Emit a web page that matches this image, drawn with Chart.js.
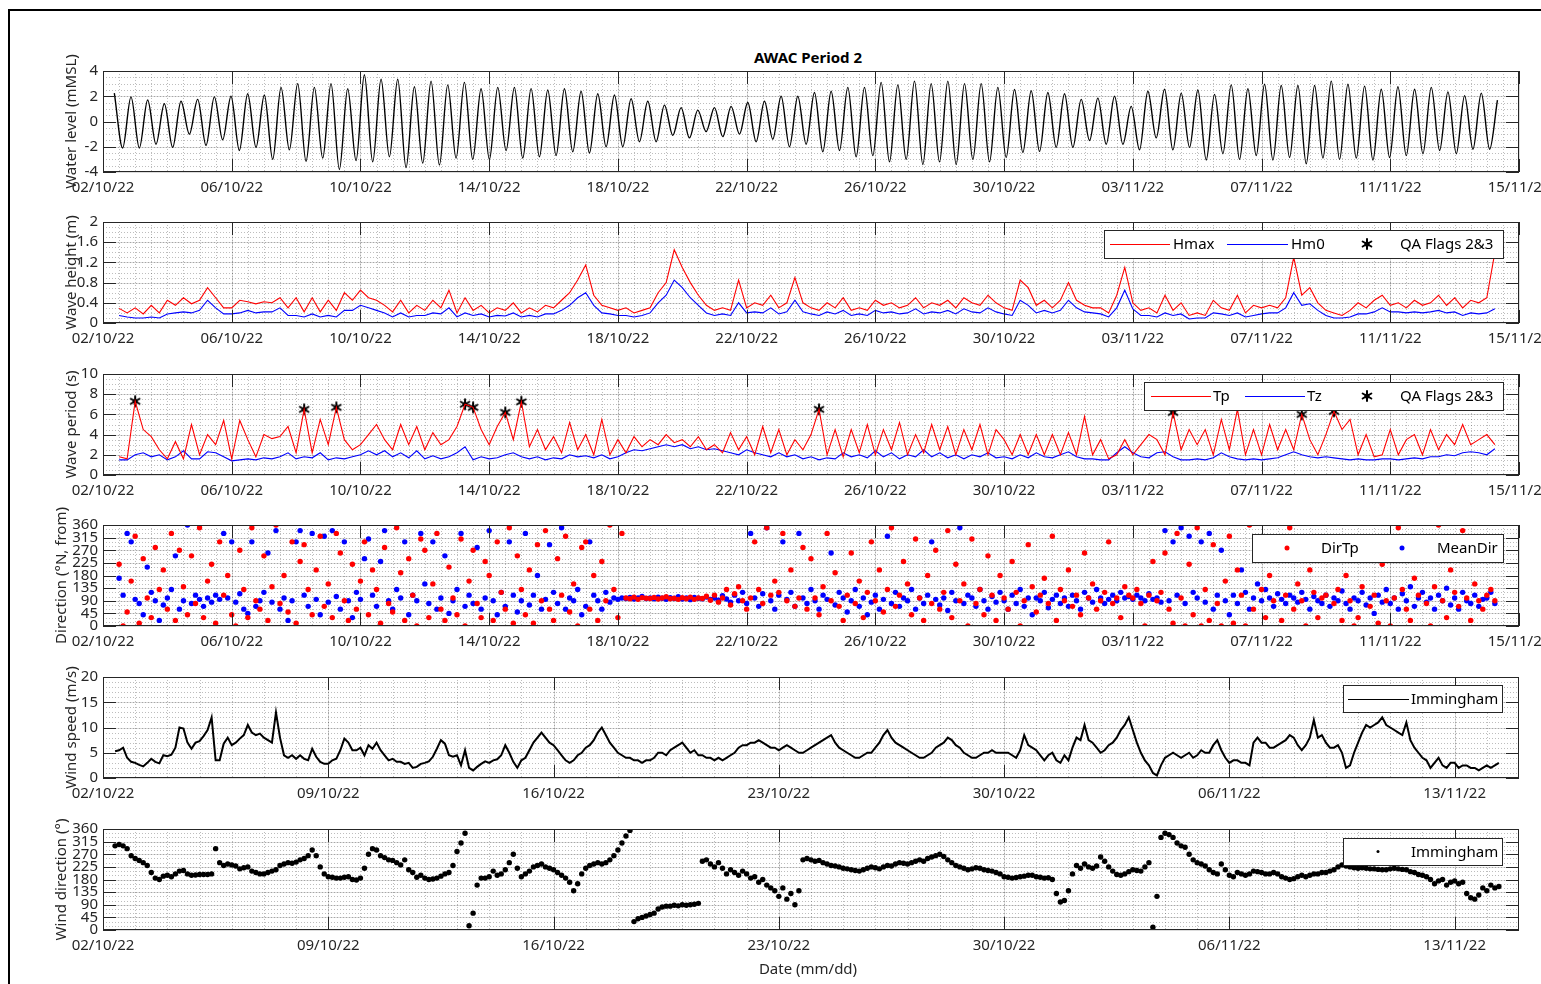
<!DOCTYPE html>
<html>
<head>
<meta charset="utf-8">
<title>AWAC Period 2</title>
<script src="https://cdn.jsdelivr.net/npm/chart.js@4.4.1/dist/chart.umd.min.js"></script>
<style>
  html, body { margin: 0; padding: 0; background: #fff; }
  body { width: 1541px; height: 984px; overflow: hidden; position: relative; font-family: 'Noto Sans', sans-serif; }
  .frame { position: absolute; left: 8px; top: 9px; width: 1600px; height: 1000px; border-left: 2px solid #000; border-top: 2px solid #000; }
  .panel { position: absolute; left: 0; }
  .label { position: absolute; left: 100px; width: 1416px; text-align: center; color: #262626; font-size: 15px; line-height: 18px; }
</style>
</head>
<body>
<div class="frame"></div>
<div class="label" style="top:48px;font-weight:bold;color:#000">AWAC Period 2</div>
<canvas class="panel" id="p1" width="1541" height="185"></canvas>
<canvas class="panel" id="p2" width="1541" height="185"></canvas>
<canvas class="panel" id="p3" width="1541" height="185"></canvas>
<canvas class="panel" id="p4" width="1541" height="185"></canvas>
<canvas class="panel" id="p5" width="1541" height="185"></canvas>
<canvas class="panel" id="p6" width="1541" height="185"></canvas>
<div class="label" style="top:959px">Date (mm/dd)</div>
<script>
// ====================================
// AWAC PERIOD 2 - six stacked panels
// time axis = days since 02/10/22 00:00
// ====================================

// TICKS
const X_TICKS_4D = [0, 4, 8, 12, 16, 20, 24, 28, 32, 36, 40, 44];
const X_LABELS_4D = ["02/10/22", "06/10/22", "10/10/22", "14/10/22", "18/10/22", "22/10/22",
  "26/10/22", "30/10/22", "03/11/22", "07/11/22", "11/11/22", "15/11/22"];
const X_TICKS_7D = [0, 7, 14, 21, 28, 35, 42];
const X_LABELS_7D = ["02/10/22", "09/10/22", "16/10/22", "23/10/22", "30/10/22", "06/11/22", "13/11/22"];

const Y_TICKS_WL = [-4, -2, 0, 2, 4];
const Y_TICKS_HS = [0, 0.4, 0.8, 1.2, 1.6, 2];
const Y_TICKS_TP = [0, 2, 4, 6, 8, 10];
const Y_TICKS_DIR = [0, 45, 90, 135, 180, 225, 270, 315, 360];
const Y_TICKS_WS = [0, 5, 10, 15, 20];

// WATER LEVEL - successive high / low waters
const WL_T0 = 0.352, WL_STEP = 0.259;
const WL_EXTREMES = [
  2.25, -2.1, 1.95, -2.1, 1.7, -1.8, 1.4, -2.05, 1.6, -1.0,
  1.75, -1.9, 1.95, -1.45, 2.0, -2.3, 2.2, -2.05, 2.1, -3.0,
  2.7, -2.25, 3.0, -3.15, 2.7, -2.9, 3.0, -3.8, 2.6, -3.1,
  3.7, -3.2, 3.35, -2.8, 3.35, -3.65, 2.75, -3.3, 3.2, -3.45,
  2.9, -2.9, 3.1, -3.0, 2.6, -3.0, 2.7, -2.3, 2.7,
  -2.9, 2.6, -2.8, 2.5, -2.7, 2.6, -2.4, 2.4, -2.5, 2.2,
  -2.0, 2.1, -2.0, 1.8, -1.6, 1.6, -1.6, 1.3, -1.1, 1.1,
  -1.3, 0.9, -0.8, 1.1, -1.2, 1.2, -1.0, 1.5, -1.6, 1.6,
  -1.4, 2.0, -2.0, 2.0, -1.8, 2.3, -2.4, 2.4, -2.3, 2.7,
  -2.8, 2.7, -2.7, 3.1, -3.2, 2.9, -3.0, 3.2, -3.4, 3.0,
  -3.2, 3.2, -3.4, 3.0, -3.0, 3.0, -3.2, 2.7,
  -2.85, 2.53, -2.45, 2.43, -2.37, 2.3, -2.05, 2.2, -2.05, 1.75,
  -1.5, 1.85, -1.8, 2.0, -1.8, 1.2, -2.25, 2.4, -1.3, 2.55,
  -2.25, 2.25, -2.05, 2.5, -3.05, 2.15, -2.55, 2.9, -3.0, 2.6,
  -2.7, 2.95, -3.05, 2.85, -2.85, 2.85, -3.35, 2.85, -2.9, 3.2,
  -3.0, 2.95, -2.9, 2.8, -3.05, 2.55, -2.85, 2.75, -2.7, 2.55,
  -2.55, 2.7, -2.3, 2.35, -2.55, 2.05, -2.2, 2.25, -2.2
];
const WL_LAST = [43.33, 1.7];

// WAVES - 6-hourly from 0.5 d
const WAVE_T0 = 0.5, WAVE_STEP = 0.25;
const HMAX = [
  0.29, 0.2,
  0.3, 0.18, 0.35, 0.2,   0.45, 0.35, 0.5, 0.38,   0.45, 0.7, 0.5, 0.3,   0.3, 0.45, 0.42, 0.38,
  0.42, 0.4, 0.5, 0.3,    0.5, 0.22, 0.5, 0.22,    0.45, 0.25, 0.6, 0.45, 0.65, 0.5, 0.45, 0.35,
  0.22, 0.45, 0.2, 0.35,  0.25, 0.45, 0.3, 0.65,   0.2, 0.5, 0.25, 0.35,  0.2, 0.3, 0.25, 0.4,
  0.2, 0.3, 0.22, 0.35,   0.3, 0.45, 0.6, 0.85,    1.15, 0.55, 0.35, 0.3, 0.25, 0.3, 0.2, 0.25,
  0.3, 0.6, 0.8, 1.45,    1.1, 0.8, 0.55, 0.35,    0.25, 0.3, 0.25, 0.85, 0.3, 0.4, 0.35, 0.55,
  0.3, 0.4, 0.9, 0.4,     0.3, 0.25, 0.4, 0.3,     0.5, 0.25, 0.3, 0.25,  0.45, 0.35, 0.4, 0.3,
  0.35, 0.5, 0.3, 0.4,    0.35, 0.45, 0.3, 0.5,    0.4, 0.35, 0.55, 0.4,  0.3, 0.25, 0.85, 0.7,
  0.35, 0.45, 0.3, 0.45,  0.8, 0.45, 0.35, 0.3,    0.3, 0.2, 0.55, 1.1,   0.4, 0.25, 0.3, 0.2,
  0.55, 0.25, 0.4, 0.15,  0.2, 0.15, 0.45, 0.3,    0.25, 0.55, 0.2, 0.35, 0.3, 0.35, 0.3, 0.5,
  1.3, 0.55, 0.7, 0.4,    0.25, 0.2, 0.15, 0.25,   0.4, 0.3, 0.45, 0.55,  0.35, 0.4, 0.3, 0.45,
  0.35, 0.4, 0.55, 0.35,  0.5, 0.3, 0.45, 0.4,
  0.5, 1.4
];
const HM0 = [
  0.15, 0.12,
  0.1, 0.1, 0.12, 0.1,    0.18, 0.2, 0.22, 0.2,    0.25, 0.45, 0.3, 0.18, 0.18, 0.2, 0.25, 0.2,
  0.22, 0.22, 0.3, 0.15,  0.15, 0.12, 0.18, 0.12,  0.15, 0.12, 0.25, 0.25, 0.35, 0.3, 0.25, 0.2,
  0.12, 0.2, 0.12, 0.15,  0.15, 0.2, 0.18, 0.3,    0.12, 0.2, 0.15, 0.18, 0.12, 0.15, 0.14, 0.2,
  0.12, 0.15, 0.12, 0.18, 0.18, 0.25, 0.35, 0.5,   0.6, 0.35, 0.2, 0.18,  0.15, 0.15, 0.12, 0.15,
  0.2, 0.4, 0.55, 0.85,   0.7, 0.5, 0.35, 0.2,     0.15, 0.18, 0.15, 0.4, 0.2, 0.22, 0.2, 0.3,
  0.18, 0.22, 0.45, 0.22, 0.18, 0.15, 0.22, 0.18,  0.25, 0.15, 0.18, 0.15, 0.25, 0.2, 0.22, 0.18,
  0.2, 0.28, 0.18, 0.22,  0.2, 0.25, 0.18, 0.28,   0.22, 0.2, 0.3, 0.22,  0.18, 0.15, 0.45, 0.35,
  0.2, 0.25, 0.2, 0.25,   0.45, 0.3, 0.22, 0.2,    0.18, 0.12, 0.3, 0.65, 0.28, 0.15, 0.15, 0.12,
  0.2, 0.15, 0.18, 0.08,  0.1, 0.1, 0.2, 0.18,     0.15, 0.2, 0.12, 0.15, 0.18, 0.2, 0.2, 0.3,
  0.6, 0.35, 0.38, 0.25,  0.15, 0.1, 0.1, 0.12,    0.18, 0.18, 0.22, 0.3, 0.22, 0.22, 0.2, 0.22,
  0.2, 0.22, 0.25, 0.2,   0.22, 0.15, 0.2, 0.18,
  0.2, 0.28
];
const TP = [
  1.8, 1.6,
  7.3, 4.5, 3.8, 2.5,  1.6, 3.3, 1.6, 5.0,  2.0, 4.0, 3.0, 5.4,  1.6, 5.4, 3.5, 1.8,
  4.0, 3.6, 3.8, 4.8,  2.2, 6.5, 2.2, 5.5,  3.0, 6.7, 3.5, 2.5,  3.0, 4.0, 5.0, 3.5,
  2.5, 5.0, 3.0, 4.8,  2.5, 4.2, 3.0, 3.5,  4.8, 7.0, 6.7, 4.5,  3.0, 4.8, 6.2, 3.5,
  7.25, 2.8, 4.5, 2.5, 3.8, 2.2, 5.2, 2.5,  4.0, 2.0, 5.5, 2.0,  3.5, 2.2, 3.8, 2.8,
  3.5, 3.0, 4.0, 3.2,  3.5, 2.8, 3.8, 2.5,  3.0, 2.2, 4.2, 2.5,  3.8, 2.0, 4.8, 2.2,
  4.5, 2.0, 3.5, 2.5,  4.0, 6.5, 2.0, 4.5,  1.8, 4.5, 2.2, 5.0,  2.0, 4.5, 2.5, 5.2,
  2.0, 4.0, 2.2, 5.0,  2.5, 4.8, 2.0, 4.5,  2.5, 5.0, 2.0, 4.5,  3.5, 2.0, 4.0, 2.0,
  4.0, 2.0, 4.0, 2.0,  4.2, 2.0, 5.8, 2.0,  3.5, 1.6, 2.0, 3.5,  2.0, 3.0, 4.0, 3.5,
  2.0, 6.2, 2.5, 4.5,  3.0, 4.5, 2.0, 5.5,  2.5, 6.5, 2.0, 4.5,  2.0, 5.0, 2.5, 4.5,
  2.5, 6.0, 3.5, 2.0,  4.0, 6.3, 4.5, 5.5,  2.0, 4.0, 1.8, 2.0,  4.5, 2.0, 3.5, 4.0,
  2.0, 4.5, 2.5, 4.0,  3.0, 5.0, 3.0, 3.5,
  4.0, 3.0
];
const TZ = [
  1.5, 1.5,
  2.0, 2.2, 1.8, 2.0,  1.5, 1.8, 2.4, 1.6,  1.6, 2.3, 2.2, 1.8,  1.4, 1.5, 1.6, 1.5,
  1.7, 1.6, 1.8, 2.2,  1.6, 1.8, 1.7, 2.2,  1.5, 1.7, 1.6, 1.8,  2.0, 2.4, 2.0, 2.4,
  1.8, 2.2, 1.7, 2.4,  1.6, 1.9, 1.6, 1.8,  2.2, 2.8, 1.5, 1.8,  1.6, 1.7, 2.0, 2.2,
  1.8, 1.6, 1.8, 1.5,  1.7, 1.6, 2.0, 1.8,  1.9, 1.7, 2.0, 1.6,  1.8, 2.2, 2.5, 2.4,
  2.6, 2.8, 3.0, 2.8,  3.0, 2.6, 2.8, 2.5,  2.6, 2.4, 2.2, 2.0,  2.5, 2.2, 2.0, 1.8,
  2.2, 1.8, 2.0, 1.6,  1.8, 1.5, 1.7, 1.6,  2.2, 1.8, 2.0, 1.7,  2.4, 1.8, 2.2, 1.6,
  2.0, 1.8, 2.5, 1.8,  2.2, 1.7, 2.0, 1.6,  2.0, 1.8, 2.2, 1.7,  1.8, 1.6, 2.0, 1.7,
  2.2, 1.8, 1.7, 2.0,  2.3, 1.8, 1.6, 1.6,  1.5, 1.5, 2.2, 2.8,  2.2, 1.8, 1.7, 2.2,
  2.3, 1.8, 1.5, 1.5,  1.6, 1.5, 1.7, 2.2,  1.8, 1.6, 1.5, 1.6,  1.5, 1.6, 1.7, 2.0,
  2.3, 2.0, 1.8, 1.7,  1.8, 1.7, 1.6, 1.5,  1.6, 1.5, 1.5, 1.6,  1.6, 1.5, 1.6, 1.7,
  1.6, 1.8, 1.8, 2.0,  1.9, 2.2, 2.3, 2.2,
  2.0, 2.6
];
const QA_T = [1.0, 6.25, 7.25, 11.25, 11.5, 12.5, 13.0, 22.25, 33.25, 37.25, 38.25];
const QA_TP = [7.3, 6.5, 6.7, 7.0, 6.7, 6.2, 7.25, 6.5, 6.2, 6.0, 6.3];

// DIRECTIONS - 3-hourly from 0.5 d
const DIR_T0 = 0.5, DIR_STEP = 0.125;
const DIRTP = [
  220, 0, 50, 160,
  320, 10, 240, 100, 30, 280, 130, 200,
  60, 330, 20, 270, 140, 40, 250, 80,
  350, 30, 160, 220, 10, 300, 110, 180,
  40, 0, 270, 130, 30, 350, 90, 60,
  250, 20, 140, 360, 80, 180, 50, 300,
  10, 230, 290, 130, 40, 200, 320, 70,
  150, 30, 330, 260, 90, 20, 220, 60,
  160, 300, 40, 200, 130, 10, 280, 80,
  50, 350, 190, 20, 240, 110, 0, 310,
  270, 30, 150, 330, 60, 20, 210, 100,
  40, 310, 0, 160, 270, 80, 30, 230,
  180, 20, 300, 120, 60, 350, 10, 250,
  130, 40, 200, 10, 290, 90, 340, 60,
  20, 240, 110, 320, 50, 150, 0, 280,
  300, 60, 180, 20, 230, 90, 360, 130,
  30, 330, 100, 97, 103, 95, 101, 99,
  98, 102, 96, 100, 104, 97, 99, 95,
  101, 97, 103, 95, 100, 98, 106, 92,
  110, 85, 100, 130, 75, 115, 140, 90,
  60, 100, 300, 130, 80, 350, 110, 160,
  120, 330, 90, 200, 70, 100, 280, 60,
  240, 100, 40, 140, 330, 90, 190, 70,
  20, 110, 260, 80, 160, 30, 120, 300,
  90, 200, 50, 130, 350, 70, 110, 230,
  150, 40, 310, 100, 20, 180, 80, 270,
  60, 120, 340, 30, 220, 90, 150, 0,
  310, 80, 130, 40, 250, 110, 20, 180,
  100, 60, 230, 120, 0, 90, 290, 140,
  50, 110, 170, 80, 320, 20, 130, 90,
  200, 70, 110, 40, 260, 100, 150, 60,
  90, 120, 300, 80, 100, 30, 140, 110,
  100, 130, 80, 0, 110, 230, 90, 120,
  260, 60, 10, 330, 100, 0, 220, 40,
  350, 0, 130, 20, 290, 80, 0, 160,
  320, 10, 200, 110, 0, 360, 60, 240,
  130, 30, 180, 90, 280, 20, 110, 350,
  60, 150, 90, 0, 200, 120, 30, 100,
  110, 250, 80, 130, 20, 180, 90, 0,
  30, 140, 310, 70, 110, 10, 220, 90,
  0, 100, 350, 130, 60, 20, 170, 110,
  300, 80, 0, 140, 360, 90, 30, 200,
  120, 70, 340, 100, 20, 150, 90, 60,
  110, 130, 90
];
const MEANDIR = [
  170, 110, 330, 300,
  95, 80, 40, 210, 120, 90, 20, 75,
  100, 130, 250, 60, 90, 360, 80, 110,
  95, 70, 100, 85, 110, 95, 330, 100,
  300, 85, 115, 60, 45, 300, 70, 90,
  120, 260, 85, 340, 60, 100, 20, 90,
  300, 340, 110, 70, 330, 95, 40, 320,
  85, 340, 105, 60, 300, 90, 30, 120,
  95, 240, 310, 110, 70, 230, 340, 90,
  60, 130, 100, 300, 40, 110, 90, 330,
  150, 80, 300, 60, 100, 250, 45, 90,
  130, 330, 70, 110, 80, 280, 60, 100,
  340, 90, 40, 120, 70, 300, 110, 50,
  90, 330, 75, 110, 180, 60, 95, 290,
  120, 80, 350, 60, 100, 90, 130, 40,
  70, 300, 110, 90, 60, 120, 85, 100,
  95, 100, 98, 102, 96, 100, 105, 98,
  100, 97, 103, 99, 95, 101, 98, 104,
  96, 100, 94, 102, 99, 97, 103, 95,
  100, 92, 108, 96, 85, 110, 90, 120,
  80, 330, 100, 70, 115, 350, 90, 60,
  110, 300, 95, 120, 70, 330, 100, 80,
  130, 90, 60, 110, 95, 260, 75, 120,
  100, 50, 90, 130, 70, 100, 40, 85,
  110, 60, 95, 320, 80, 120, 70, 100,
  90, 130, 60, 100, 80, 110, 300, 95,
  75, 100, 55, 120, 90, 350, 80, 110,
  100, 70, 130, 90, 60, 105, 85, 120,
  90, 60, 110, 80, 130, 70, 100, 40,
  100, 90, 120, 65, 95, 110, 80, 100,
  70, 110, 90, 60, 120, 100, 85, 130,
  100, 80, 95, 110, 90, 120, 100, 105,
  95, 110, 100, 90, 115, 95, 100, 85,
  340, 90, 300, 110, 350, 80, 320, 120,
  100, 300, 85, 330, 60, 110, 270, 90,
  40, 110, 80, 200, 120, 60, 100, 150,
  90, 130, 100, 70, 115, 95, 80, 110,
  100, 85, 120, 95, 60, 105, 90, 80,
  110, 70, 100, 90, 125, 80, 60, 100,
  90, 120, 75, 100, 45, 110, 85, 130,
  80, 100, 60, 115, 90, 140, 70, 100,
  120, 85, 100, 60, 110, 90, 135, 75,
  100, 60, 120, 90, 80, 110, 70, 95,
  100, 120, 80
];

// WIND (Immingham) - 3-hourly from 0.375 d
const WIND_T0 = 0.375, WIND_STEP = 0.125;
const WIND_SPEED = [
  5.3, 5.5, 6.0, 4.0, 3.2, 3.0, 2.6, 2.3, 3.0, 3.8,
  3.2, 2.9, 4.5, 4.3, 4.6, 6.0, 10.0, 9.8, 7.0, 5.8,
  7.0, 7.3, 8.3, 9.5, 12.0, 3.5, 3.5, 6.8, 8.0, 6.5,
  7.0, 7.8, 8.5, 10.5, 9.0, 8.5, 8.8, 8.0, 7.5, 7.0,
  13.0, 8.0, 4.5, 4.0, 4.5, 3.8, 4.5, 3.8, 3.5, 5.8,
  4.2, 3.2, 2.8, 2.8, 3.5, 3.8, 5.5, 7.8, 7.0, 5.5,
  5.5, 6.0, 4.5, 6.5, 5.8, 7.0, 5.5, 4.5, 3.5, 3.8,
  3.2, 3.2, 2.8, 3.0, 2.0, 2.2, 2.8, 3.0, 3.3, 4.2,
  5.8, 7.5, 6.8, 4.5, 4.2, 4.5, 2.5, 5.5, 2.0, 1.5,
  2.2, 2.8, 3.3, 3.0, 3.5, 3.7, 4.5, 6.5, 5.0, 3.2,
  2.0, 3.5,
  4.0, 5.5, 7.0, 8.0, 9.0, 8.0, 7.0, 6.5,
  5.5, 4.5, 3.5, 3.0, 3.5, 4.5, 5.0, 6.0,
  6.5, 7.5, 9.0, 10.0, 8.5, 7.0, 6.0, 5.0,
  4.5, 4.0, 4.0, 3.5, 3.5, 3.0, 3.5, 3.5,
  4.0, 5.0, 5.0, 4.5, 5.5, 6.0, 6.5, 7.0,
  6.0, 5.0, 5.5, 4.5, 4.5, 4.0, 4.0, 3.5,
  4.0, 3.5, 4.0, 4.5, 5.0, 6.0, 6.5, 6.5,
  7.0, 7.0, 7.5, 7.0, 6.5, 6.0, 6.0, 5.5,
  6.0, 6.5, 6.0, 5.5, 5.0, 5.0, 5.5, 6.0,
  6.5, 7.0, 7.5, 8.0, 8.5, 7.0, 6.0, 5.5,
  5.0, 4.5, 4.0, 4.0, 4.5, 5.0, 5.0, 6.0,
  7.0, 8.5, 9.5, 8.0, 7.0, 6.5, 6.0, 5.5,
  5.0, 4.5, 4.0, 4.0, 4.5, 5.0, 6.0, 6.5,
  7.0, 8.0, 7.5, 6.5, 6.0, 5.0, 4.5, 4.0,
  4.0, 4.5, 5.0, 5.0, 5.5, 5.0, 5.0,
  5.0, 5.0, 4.5, 4.0, 5.5, 8.5, 6.5, 6.0,
  5.5, 4.5, 3.5, 4.5, 5.0, 3.5, 3.0, 4.5,
  3.5, 6.0, 8.0, 7.5, 10.5, 7.5, 7.0, 6.0,
  5.0, 5.5, 6.5, 7.0, 8.0, 9.5, 10.5, 12.0,
  9.5, 7.0, 5.0, 3.5, 2.5, 1.0, 0.5, 2.5,
  4.0, 4.5, 5.0, 4.5, 4.0, 4.5, 5.0, 4.0,
  4.5, 5.5, 5.0, 5.0, 6.5, 7.5, 5.5, 4.0,
  3.0, 3.5, 3.5, 3.0, 3.0, 2.5, 7.0, 8.0,
  7.0, 7.0, 6.0, 6.0, 6.5, 7.0, 7.5, 8.5,
  8.0, 6.5, 5.5, 6.5, 8.0, 11.5, 8.0, 8.5,
  7.0, 6.0, 6.0, 6.5, 5.0, 2.0, 2.5, 5.0,
  7.0, 9.0, 10.5, 10.0, 10.5, 11.0, 12.0, 10.5,
  10.0, 9.5, 9.0, 8.5, 11.0, 7.5, 6.0, 5.0,
  4.0, 3.5, 2.0, 3.0, 4.0, 2.5, 2.0, 3.0,
  3.0, 2.0, 2.5, 2.5, 2.0, 2.0, 1.5, 2.0,
  2.5, 2.0, 2.5, 3.0
];
const WIND_DIR = [
  300, 305, 300, 290, 265, 255, 248, 240, 230, 205,
  185, 180, 192, 195, 190, 200, 210, 212, 200, 195,
  196, 198, 198, 198, 200, 290, 240, 230, 235, 232,
  228, 218, 222, 225, 210, 205, 200, 200, 205, 210,
  215, 230, 235, 240, 238, 242, 250, 255, 265, 285,
  265, 225, 200, 190, 188, 185, 185, 188, 190, 180,
  178, 185, 220, 270, 290, 285, 265, 258, 250, 248,
  240, 232, 250, 215, 205, 188, 195, 185, 180, 182,
  185, 192, 200, 205, 230, 280, 310, 345, 15, 60,
  160, 185, 185, 190, 210, 195, 200, 215, 240, 270,
  220, 190,
  200, 210, 225, 230, 235, 225, 220, 215,
  205, 195, 185, 170, 140, 165, 200, 220,
  230, 235, 240, 235, 240, 250, 265, 285,
  310, 335, 355, 30, 40, 45, 50, 55,
  60, 75, 82, 85, 85, 88, 86, 90,
  88, 90, 92, 95, 245, 250, 235, 225,
  240, 220, 200, 215, 205, 195, 210, 200,
  185, 190, 170, 180, 160, 150, 140, 120,
  150, 110, 130, 90, 140, 250, 255, 250,
  245, 248, 240, 235, 230, 228, 225, 220,
  218, 215, 212, 210, 215, 220, 225, 222,
  218, 225, 230, 228, 235, 240, 238, 235,
  240, 245, 250, 245, 255, 260, 265, 270,
  262, 250, 240, 230, 225, 220, 215, 218,
  222, 220, 215, 212, 210, 205, 200,
  190, 188, 185, 187, 190, 192, 195, 195,
  190, 188, 185, 186, 180, 130, 100, 105,
  140, 200, 230, 220, 235, 225, 220, 228,
  260, 245, 225, 210, 198, 195, 200, 208,
  215, 212, 210, 225, 240, 10, 120, 330,
  345, 340, 330, 310, 300, 295, 270, 250,
  240, 235, 228, 215, 205, 200, 235, 215,
  195, 190, 205, 200, 195, 200, 210, 208,
  205, 200, 200, 205, 200, 190, 185, 180,
  183, 190, 195, 190, 195, 200, 200, 205,
  205, 210, 215, 225, 232, 228, 225, 222,
  220, 222, 220, 218, 218, 216, 215, 215,
  218, 220, 218, 216, 215, 208, 205, 198,
  195, 190, 180, 165, 175, 180, 160, 170,
  175, 165, 170, 130, 115, 110, 125, 150,
  140, 160, 150, 155
];

// ---------- layout ----------
const PLOT_LEFT = 103, PLOT_RIGHT = 1519, PLOT_H = 101;
const PAD_TOP = 45, CANVAS_H = 185, CANVAS_W = 1541;
const X_MIN = 0, X_MAX = 44;
const TXT = "#262626";
const FONT = "'Noto Sans', sans-serif";
const RED = "#ff0000", BLUE = "#0000ff";

function series(t0, step, vals) {
  return vals.map((v, i) => ({ x: t0 + i * step, y: v }));
}
function pairs(times, vals) {
  return vals.map((v, i) => ({ x: times[i], y: v }));
}

// asterisk marker (QA flags)
function starMarker(r) {
  const c = document.createElement("canvas");
  const s = 2 * r + 4;
  c.width = s; c.height = s;
  const g = c.getContext("2d");
  g.translate(s / 2, s / 2);
  g.strokeStyle = "#000"; g.lineWidth = 2; g.lineCap = "round";
  g.beginPath();
  for (let k = 0; k < 3; k++) {
    const a = Math.PI / 2 + k * Math.PI / 3;
    g.moveTo(r * Math.cos(a), r * Math.sin(a));
    g.lineTo(-r * Math.cos(a), -r * Math.sin(a));
  }
  g.stroke();
  g.fillStyle = "#000";
  g.beginPath(); g.arc(0, 0, 2.6, 0, Math.PI * 2); g.fill();
  return c;
}
const STAR = starMarker(5);

const wlData = series(WL_T0, WL_STEP, WL_EXTREMES);
wlData.push({ x: WL_LAST[0], y: WL_LAST[1] });

// PANELS
const PANELS = [
  {
    id: "p1", top: 71, title: "Water level (mMSL)", padLeft: 59,
    yMin: -4, yMax: 4, yTicks: Y_TICKS_WL, yMinor: 0.5,
    xTicks: X_TICKS_4D, xLabels: X_LABELS_4D, xMinor: 0.5,
    datasets: [
      { data: wlData, borderColor: "#000", borderWidth: 1.4, cubicInterpolationMode: "monotone", pointRadius: 0 }
    ],
    legend: null
  },
  {
    id: "p2", top: 222, title: "Wave height (m)", padLeft: 59,
    yMin: 0, yMax: 2, yTicks: Y_TICKS_HS, yMinor: 0.1,
    xTicks: X_TICKS_4D, xLabels: X_LABELS_4D, xMinor: 0.5,
    datasets: [
      { data: series(WAVE_T0, WAVE_STEP, HMAX), borderColor: RED, borderWidth: 1.1, pointRadius: 0 },
      { data: series(WAVE_T0, WAVE_STEP, HM0), borderColor: BLUE, borderWidth: 1.1, pointRadius: 0 }
    ],
    legend: {
      box: [1104, 8, 1503, 36],
      items: [
        { kind: "line", color: RED, x1: 1110, x2: 1170, tx: 1173, text: "Hmax" },
        { kind: "line", color: BLUE, x1: 1227, x2: 1288, tx: 1291, text: "Hm0" },
        { kind: "star", x: 1367, tx: 1400, text: "QA Flags 2&3" }
      ]
    }
  },
  {
    id: "p3", top: 374, title: "Wave period (s)", padLeft: 59,
    yMin: 0, yMax: 10, yTicks: Y_TICKS_TP, yMinor: 0.5,
    xTicks: X_TICKS_4D, xLabels: X_LABELS_4D, xMinor: 0.5,
    datasets: [
      { data: series(WAVE_T0, WAVE_STEP, TP), borderColor: RED, borderWidth: 1.1, pointRadius: 0 },
      { data: series(WAVE_T0, WAVE_STEP, TZ), borderColor: BLUE, borderWidth: 1.1, pointRadius: 0 },
      { data: pairs(QA_T, QA_TP), showLine: false, pointStyle: STAR, pointRadius: 5 }
    ],
    legend: {
      box: [1144, 8, 1503, 36],
      items: [
        { kind: "line", color: RED, x1: 1151, x2: 1211, tx: 1213, text: "Tp" },
        { kind: "line", color: BLUE, x1: 1245, x2: 1305, tx: 1307, text: "Tz" },
        { kind: "star", x: 1367, tx: 1400, text: "QA Flags 2&3" }
      ]
    }
  },
  {
    id: "p4", top: 525, title: "Direction (°N, from)", padLeft: 49,
    yMin: 0, yMax: 360, yTicks: Y_TICKS_DIR, yMinor: 15,
    xTicks: X_TICKS_4D, xLabels: X_LABELS_4D, xMinor: 0.5,
    datasets: [
      { data: series(DIR_T0, DIR_STEP, DIRTP), showLine: false, pointRadius: 2.7, pointBackgroundColor: RED, pointBorderWidth: 0 },
      { data: series(DIR_T0, DIR_STEP, MEANDIR), showLine: false, pointRadius: 2.7, pointBackgroundColor: BLUE, pointBorderWidth: 0 }
    ],
    legend: {
      box: [1252, 9, 1503, 37],
      items: [
        { kind: "dot", color: RED, x: 1287, r: 2.5, tx: 1321, text: "DirTp" },
        { kind: "dot", color: BLUE, x: 1402, r: 2.5, tx: 1437, text: "MeanDir" }
      ]
    }
  },
  {
    id: "p5", top: 677, title: "Wind speed (m/s)", padLeft: 59,
    yMin: 0, yMax: 20, yTicks: Y_TICKS_WS, yMinor: 1,
    xTicks: X_TICKS_7D, xLabels: X_LABELS_7D, xMinor: 1,
    datasets: [
      { data: series(WIND_T0, WIND_STEP, WIND_SPEED), borderColor: "#000", borderWidth: 2, pointRadius: 0 }
    ],
    legend: {
      box: [1343, 8, 1502, 35],
      items: [
        { kind: "line", color: "#000", x1: 1348, x2: 1409, tx: 1411, text: "Immingham" }
      ]
    }
  },
  {
    id: "p6", top: 829, title: "Wind direction (°)", padLeft: 49,
    yMin: 0, yMax: 360, yTicks: Y_TICKS_DIR, yMinor: 15,
    xTicks: X_TICKS_7D, xLabels: X_LABELS_7D, xMinor: 1,
    datasets: [
      { data: series(WIND_T0, WIND_STEP, WIND_DIR), showLine: false, pointRadius: 2.7, pointBackgroundColor: "#000", pointBorderWidth: 0 }
    ],
    legend: {
      box: [1343, 9, 1502, 36],
      items: [
        { kind: "dot", color: "#000", x: 1378, r: 1.5, tx: 1411, text: "Immingham" }
      ]
    }
  }
];

// grid, box and inward ticks (MATLAB look)
function axesPlugin(p) {
  return {
    id: "axesBox",
    beforeDatasetsDraw(chart) {
      const { ctx, chartArea: a } = chart;
      const x = chart.scales.x, y = chart.scales.y;
      ctx.save();
      ctx.lineWidth = 1;
      ctx.setLineDash([1, 2]);
      ctx.strokeStyle = "rgba(38,38,38,0.3)";
      ctx.beginPath();
      const nx = Math.round((X_MAX - X_MIN) / p.xMinor);
      for (let k = 1; k < nx; k++) {
        const px = Math.round(x.getPixelForValue(X_MIN + k * p.xMinor)) + 0.5;
        ctx.moveTo(px, a.top); ctx.lineTo(px, a.bottom);
      }
      const ny = Math.round((p.yMax - p.yMin) / p.yMinor);
      for (let k = 1; k < ny; k++) {
        const py = Math.round(y.getPixelForValue(p.yMin + k * p.yMinor)) + 0.5;
        ctx.moveTo(a.left, py); ctx.lineTo(a.right, py);
      }
      ctx.stroke();
      ctx.setLineDash([]);
      ctx.strokeStyle = "rgba(38,38,38,0.16)";
      ctx.beginPath();
      p.xTicks.forEach(v => {
        const px = Math.round(x.getPixelForValue(v)) + 0.5;
        ctx.moveTo(px, a.top); ctx.lineTo(px, a.bottom);
      });
      p.yTicks.forEach(v => {
        const py = Math.round(y.getPixelForValue(v)) + 0.5;
        ctx.moveTo(a.left, py); ctx.lineTo(a.right, py);
      });
      ctx.stroke();
      ctx.restore();
    },
    afterDatasetsDraw(chart) {
      const { ctx, chartArea: a } = chart;
      const x = chart.scales.x, y = chart.scales.y;
      const TL = 13;
      ctx.save();
      ctx.strokeStyle = TXT;
      ctx.lineWidth = 1;
      ctx.beginPath();
      p.xTicks.forEach(v => {
        const px = Math.round(x.getPixelForValue(v)) + 0.5;
        ctx.moveTo(px, a.top); ctx.lineTo(px, a.top + TL);
        ctx.moveTo(px, a.bottom); ctx.lineTo(px, a.bottom - TL);
      });
      p.yTicks.forEach(v => {
        const py = Math.round(y.getPixelForValue(v)) + 0.5;
        ctx.moveTo(a.left, py); ctx.lineTo(a.left + TL, py);
        ctx.moveTo(a.right, py); ctx.lineTo(a.right - TL, py);
      });
      ctx.stroke();
      ctx.strokeRect(a.left + 0.5, a.top + 0.5, a.right - a.left - 1, a.bottom - a.top - 1);
      ctx.restore();
    }
  };
}

// boxed legend inside the axes
function legendPlugin(spec) {
  return {
    id: "boxLegend",
    afterDraw(chart) {
      if (!spec) return;
      const ctx = chart.ctx, top = chart.chartArea.top;
      const [x1, y1, x2, y2] = spec.box;
      const cy = top + (y1 + y2) / 2;
      ctx.save();
      ctx.fillStyle = "#fff";
      ctx.fillRect(x1, top + y1, x2 - x1, y2 - y1);
      ctx.strokeStyle = TXT; ctx.lineWidth = 1;
      ctx.strokeRect(x1 + 0.5, top + y1 + 0.5, x2 - x1, y2 - y1);
      ctx.font = "15px " + FONT;
      ctx.textBaseline = "middle";
      spec.items.forEach(it => {
        if (it.kind === "line") {
          ctx.strokeStyle = it.color; ctx.lineWidth = 1;
          ctx.beginPath(); ctx.moveTo(it.x1, Math.round(cy) + 0.5); ctx.lineTo(it.x2, Math.round(cy) + 0.5); ctx.stroke();
        } else if (it.kind === "dot") {
          ctx.fillStyle = it.color;
          ctx.beginPath(); ctx.arc(it.x, cy, it.r, 0, Math.PI * 2); ctx.fill();
        } else if (it.kind === "star") {
          ctx.drawImage(STAR, it.x - STAR.width / 2, cy - STAR.height / 2);
        }
        ctx.fillStyle = "#000";
        ctx.fillText(it.text, it.tx, cy + 1);
      });
      ctx.restore();
    }
  };
}

document.addEventListener("DOMContentLoaded", () => {
  PANELS.forEach(p => {
    const cv = document.getElementById(p.id);
    cv.style.top = (p.top - PAD_TOP) + "px";
    new Chart(cv, {
      type: "line",
      data: { datasets: p.datasets },
      plugins: [axesPlugin(p), legendPlugin(p.legend)],
      options: {
        responsive: false,
        animation: false,
        devicePixelRatio: 1,
        events: [],
        layout: { padding: { top: PAD_TOP, left: p.padLeft, right: CANVAS_W - PLOT_RIGHT, bottom: 0 } },
        elements: { line: { tension: 0 }, point: { radius: 0 } },
        plugins: { legend: { display: false }, tooltip: { enabled: false } },
        scales: {
          x: {
            type: "linear", min: X_MIN, max: X_MAX,
            grid: { display: false, drawTicks: false },
            border: { display: false },
            afterBuildTicks: s => { s.ticks = p.xTicks.map(v => ({ value: v })); },
            afterFit: s => { s.height = CANVAS_H - PAD_TOP - PLOT_H; s.paddingLeft = 0; s.paddingRight = 0; },
            ticks: {
              autoSkip: false, maxRotation: 0, minRotation: 0, padding: 7,
              color: TXT, font: { family: FONT, size: 15 },
              callback: (v, i) => p.xLabels[i]
            }
          },
          y: {
            type: "linear", min: p.yMin, max: p.yMax,
            grid: { display: false, drawTicks: false },
            border: { display: false },
            afterBuildTicks: s => { s.ticks = p.yTicks.map(v => ({ value: v })); },
            afterFit: s => { s.width = PLOT_LEFT - p.padLeft; s.paddingTop = 0; s.paddingBottom = 0; },
            title: { display: true, text: p.title, color: TXT, font: { family: FONT, size: 15 }, padding: { top: 4, bottom: 4 } },
            ticks: {
              autoSkip: false, padding: 5, color: TXT, font: { family: FONT, size: 15 },
              callback: v => String(v)
            }
          }
        }
      }
    });
  });
});
</script>
</body>
</html>
